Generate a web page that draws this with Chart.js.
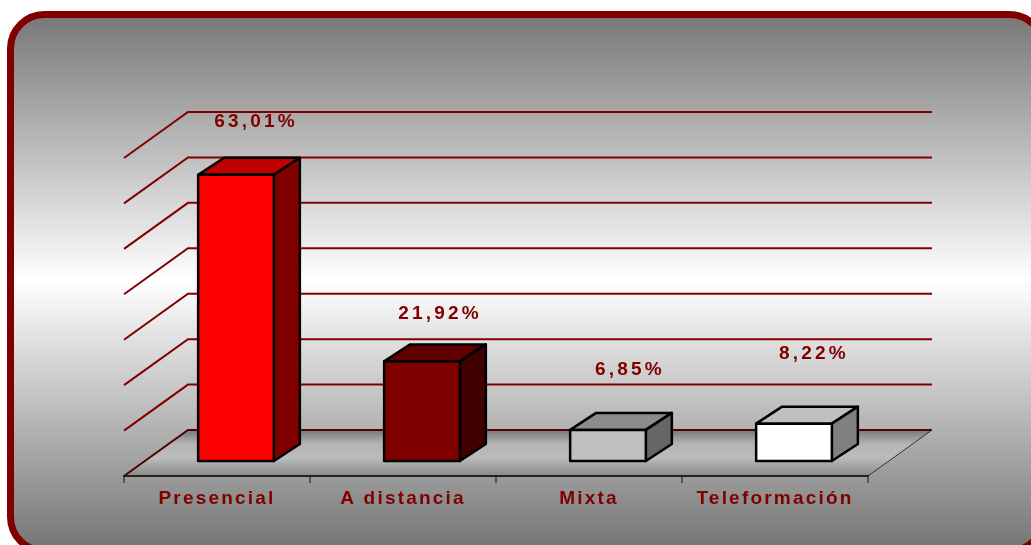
<!DOCTYPE html>
<html><head><meta charset="utf-8">
<style>html,body{margin:0;padding:0;background:#fff}canvas{display:block}</style>
<script src="https://cdn.jsdelivr.net/npm/chart.js@4"></script>
</head><body><div style="width:1031px;height:545px"><canvas id="c" width="1031" height="545"></canvas></div>
<script>
const categories = ["Presencial", "A distancia", "Mixta", "Teleformación"];
const values = [63.01, 21.92, 6.85, 8.22];
const valueLabels = ["63,01%", "21,92%", "6,85%", "8,22%"];
const frontColors = ["#ff0000", "#800000", "#c0c0c0", "#ffffff"];
const topColors = ["#c00000", "#600000", "#8c8c8c", "#c0c0c0"];
const sideColors = ["#800000", "#400000", "#666666", "#808080"];
const labelRise = [36, 31, 43, 53];
const labelShift = [0, -2, 2, 0];

const FONT = 'bold 19px "Liberation Sans", Arial, sans-serif';
const WALL = {dx: 64, dy: -46};
const BAR_POS = {dx: 19, dy: -15};
const BAR_DEPTH = {dx: 26, dy: -17};
const MAROON = "#800000";

function poly(ctx, pts, fill, stroke, lw) {
  ctx.beginPath();
  pts.forEach((p, i) => i ? ctx.lineTo(p[0], p[1]) : ctx.moveTo(p[0], p[1]));
  ctx.closePath();
  if (fill) { ctx.fillStyle = fill; ctx.fill(); }
  if (stroke) { ctx.strokeStyle = stroke; ctx.lineWidth = lw; ctx.lineJoin = "round"; ctx.stroke(); }
}

const scene = {
  id: "scene",
  beforeDraw(chart) {
    const ctx = chart.ctx, a = chart.chartArea, y = chart.scales.y;
    ctx.save();
    ctx.letterSpacing = "0px";
    const g = ctx.createLinearGradient(0, 15, 0, 545);
    g.addColorStop(0, "#777777");
    g.addColorStop(0.5, "#ffffff");
    g.addColorStop(1, "#777777");
    ctx.beginPath();
    ctx.roundRect(10.5, 14.5, 1033, 536.5, 34);
    ctx.fillStyle = g; ctx.fill();
    ctx.strokeStyle = MAROON; ctx.lineWidth = 7; ctx.stroke();
    const b = a.bottom;
    const fg = ctx.createLinearGradient(0, b + WALL.dy, 0, b);
    fg.addColorStop(0, "#777777");
    fg.addColorStop(0.3, "#b4b4b4");
    fg.addColorStop(0.6, "#bcbcbc");
    fg.addColorStop(1, "#8a8a8a");
    poly(ctx, [[a.left, b], [a.left + WALL.dx, b + WALL.dy], [a.right + WALL.dx, b + WALL.dy], [a.right, b]], fg);
    ctx.lineCap = "butt";
    y.ticks.forEach(t => {
      const py = y.getPixelForValue(t.value);
      ctx.beginPath();
      ctx.moveTo(a.left, py);
      ctx.lineTo(a.left + WALL.dx, py + WALL.dy);
      ctx.lineTo(a.right + WALL.dx, py + WALL.dy);
      ctx.strokeStyle = t.value === 0 ? "#500000" : MAROON;
      ctx.lineWidth = 2;
      ctx.stroke();
    });
    ctx.beginPath();
    ctx.moveTo(a.right, b);
    ctx.lineTo(a.right + WALL.dx, b + WALL.dy);
    ctx.strokeStyle = "#333"; ctx.lineWidth = 1; ctx.stroke();
    ctx.restore();
    ctx.letterSpacing = "2.2px";
  },
  beforeDatasetsDraw(chart) {
    const ctx = chart.ctx;
    ctx.save();
    chart.getDatasetMeta(0).data.forEach((bar, i) => {
      const l = bar.x - bar.width / 2 + BAR_POS.dx, r = bar.x + bar.width / 2 + BAR_POS.dx;
      const t = bar.y + BAR_POS.dy, bt = bar.base + BAR_POS.dy;
      const d = BAR_DEPTH;
      poly(ctx, [[l, t], [l + d.dx, t + d.dy], [r + d.dx, t + d.dy], [r, t]], topColors[i], "#000", 2.5);
      poly(ctx, [[r, t], [r + d.dx, t + d.dy], [r + d.dx, bt + d.dy], [r, bt]], sideColors[i], "#000", 2.5);
    });
    ctx.restore();
    ctx.save();
    ctx.translate(BAR_POS.dx, BAR_POS.dy);
  },
  afterDatasetsDraw(chart) {
    const ctx = chart.ctx;
    // outline of each bar's front face, centred on the bar's own edges
    chart.getDatasetMeta(0).data.forEach(bar => {
      const l = bar.x - bar.width / 2, r = bar.x + bar.width / 2;
      poly(ctx, [[l, bar.y], [r, bar.y], [r, bar.base], [l, bar.base]], null, "#000", 2.5);
    });
    ctx.restore();
    ctx.save();
    ctx.font = FONT;
    ctx.letterSpacing = "3.2px";
    ctx.fillStyle = MAROON;
    ctx.textAlign = "center";
    ctx.textBaseline = "middle";
    chart.getDatasetMeta(0).data.forEach((bar, i) => {
      const topBack = bar.y + BAR_POS.dy + BAR_DEPTH.dy;
      ctx.fillText(valueLabels[i], bar.x + BAR_POS.dx + 20 + labelShift[i], topBack - labelRise[i]);
    });
    ctx.restore();
  }
};

new Chart(document.getElementById("c"), {
  type: "bar",
  data: {
    labels: categories,
    datasets: [{
      data: values,
      backgroundColor: frontColors,
      borderWidth: 0,
      barPercentage: 0.407,
      categoryPercentage: 1,
      clip: false
    }]
  },
  options: {
    responsive: false,
    animation: false,
    layout: {padding: {left: 124, right: 163, top: 158, bottom: 0}},
    plugins: {legend: {display: false}, tooltip: {enabled: false}, title: {display: false}},
    scales: {
      y: {display: false, min: 0, max: 70, ticks: {stepSize: 10}},
      x: {
        offset: true,
        afterFit(s) { s.height = 69; },
        border: {color: "#222222", width: 2},
        grid: {drawOnChartArea: false, drawTicks: true, tickLength: 7, color: "#555555", lineWidth: 2, offset: true},
        ticks: {color: MAROON, font: {family: '"Liberation Sans", Arial, sans-serif', size: 19, weight: "bold"}, padding: 4, maxRotation: 0, autoSkip: false}
      }
    }
  },
  plugins: [scene]
});
</script></body></html>
